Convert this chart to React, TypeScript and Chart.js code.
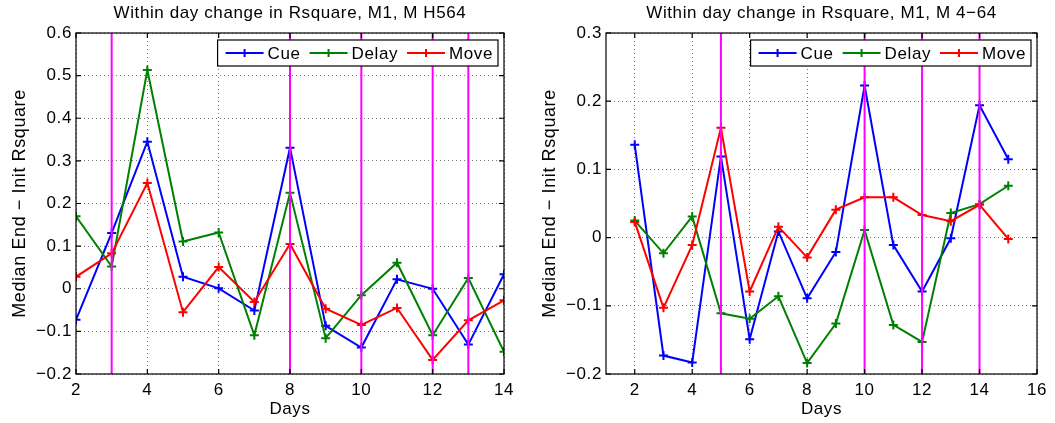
import React, { useEffect, useRef } from "react";
import { Chart, registerables } from "chart.js";

Chart.register(...registerables);

// ---------- data ----------
const days1 = [2, 3, 4, 5, 6, 7, 8, 9, 10, 11, 12, 13, 14];
const cue1 = [-0.073, 0.131, 0.345, 0.028, 0.001, -0.051, 0.331, -0.087, -0.138, 0.022, 0.0, -0.131, 0.034];
const delay1 = [0.17, 0.052, 0.513, 0.111, 0.132, -0.109, 0.225, -0.116, -0.015, 0.061, -0.109, 0.025, -0.148];
const move1 = [0.028, 0.083, 0.248, -0.055, 0.051, -0.031, 0.105, -0.047, -0.085, -0.045, -0.167, -0.074, -0.027];
const marks1 = [3, 8, 10, 12, 13];

const days2 = [2, 3, 4, 5, 6, 7, 8, 9, 10, 11, 12, 13, 14, 15];
const cue2 = [0.136, -0.173, -0.183, 0.119, -0.149, 0.009, -0.089, -0.021, 0.223, -0.011, -0.079, -0.001, 0.194, 0.115];
const delay2 = [0.025, -0.023, 0.031, -0.111, -0.119, -0.086, -0.184, -0.126, 0.011, -0.128, -0.153, 0.036, 0.049, 0.076];
const move2 = [0.023, -0.103, -0.011, 0.161, -0.079, 0.016, -0.029, 0.041, 0.059, 0.059, 0.033, 0.024, 0.048, -0.002];
const marks2 = [5, 10, 12, 14];

const xTicks1 = [2, 4, 6, 8, 10, 12, 14];
const xTicks2 = [2, 4, 6, 8, 10, 12, 14, 16];
const yTicks1 = [-0.2, -0.1, 0, 0.1, 0.2, 0.3, 0.4, 0.5, 0.6];
const yTicks2 = [-0.2, -0.1, 0, 0.1, 0.2, 0.3];

const seriesNames = ["Cue", "Delay", "Move"];
const seriesColors = ["#0000ff", "#008000", "#ff0000"];
const markColor = "#ff00ff";

const title1 = "Within day change in Rsquare, M1, M H564";
const title2 = "Within day change in Rsquare, M1, M 4\u221264";
const xTitle = "Days";
const yTitle = "Median End \u2212 Init Rsquare";

const FONT = "'Liberation Sans', Arial, Helvetica, sans-serif";
const SPACING = "0.6px";

type PanelCfg = {
  width: number;
  padRight: number;
  title: string;
  days: number[];
  series: number[][];
  marks: number[];
  xMin: number;
  xMax: number;
  xTicks: number[];
  yTicks: number[];
};

const panels: PanelCfg[] = [
  { width: 530, padRight: 26, title: title1, days: days1, series: [cue1, delay1, move1], marks: marks1, xMin: 2, xMax: 14, xTicks: xTicks1, yTicks: yTicks1 },
  { width: 525, padRight: 18, title: title2, days: days2, series: [cue2, delay2, move2], marks: marks2, xMin: 1, xMax: 16, xTicks: xTicks2, yTicks: yTicks2 },
];

function fmtY(v: number) {
  if (Math.abs(v) < 1e-9) return "0";
  return (v < 0 ? "\u2212" : "") + Math.abs(v).toFixed(1);
}

function decorPlugin(cfg: PanelCfg) {
  return {
    id: "decor",
    beforeUpdate(chart: any) {
      chart.ctx.letterSpacing = SPACING;
    },
    beforeDraw(chart: any) {
      const ctx = chart.ctx;
      ctx.save();
      ctx.fillStyle = "#ffffff";
      ctx.fillRect(0, 0, chart.width, chart.height);
      ctx.restore();
      ctx.letterSpacing = SPACING;
    },
    afterDatasetsDraw(chart: any) {
      const ctx = chart.ctx;
      const a = chart.chartArea;
      const xs = chart.scales.x;
      const ys = chart.scales.y;
      ctx.save();
      ctx.letterSpacing = SPACING;
      // frame
      ctx.strokeStyle = "#000";
      ctx.lineWidth = 1.2;
      ctx.strokeRect(a.left, a.top, a.right - a.left, a.bottom - a.top);
      // inward ticks
      ctx.beginPath();
      const tl = 5;
      cfg.xTicks.forEach((t) => {
        const px = xs.getPixelForValue(t);
        ctx.moveTo(px, a.bottom);
        ctx.lineTo(px, a.bottom - tl);
        ctx.moveTo(px, a.top);
        ctx.lineTo(px, a.top + tl);
      });
      cfg.yTicks.forEach((t) => {
        const py = ys.getPixelForValue(t);
        ctx.moveTo(a.left, py);
        ctx.lineTo(a.left + tl, py);
        ctx.moveTo(a.right, py);
        ctx.lineTo(a.right - tl, py);
      });
      ctx.stroke();

      // titles
      ctx.fillStyle = "#000";
      ctx.textAlign = "center";
      ctx.textBaseline = "middle";
      ctx.font = `17px ${FONT}`;
      const cx = (a.left + a.right) / 2;
      ctx.fillText(cfg.title, cx, 13);
      ctx.font = `17px ${FONT}`;
      ctx.fillText(xTitle, cx, 409);
      ctx.save();
      ctx.font = `18px ${FONT}`;
      ctx.translate(20, (a.top + a.bottom) / 2);
      ctx.rotate(-Math.PI / 2);
      ctx.fillText(yTitle, 0, 0);
      ctx.restore();

      // legend
      ctx.font = `17px ${FONT}`;
      const lineW = 38, gap = 4, itemGap = 9, padL = 8, padR = 5, h = 26;
      const tw = seriesNames.map((n) => ctx.measureText(n).width);
      const boxW = padL + padR + seriesNames.length * (lineW + gap) + tw.reduce((s, v) => s + v, 0) + itemGap * (seriesNames.length - 1);
      const bx = a.right - 6 - boxW;
      const by = a.top + 7;
      ctx.fillStyle = "#fff";
      ctx.fillRect(bx, by, boxW, h);
      ctx.strokeStyle = "#000";
      ctx.lineWidth = 1.2;
      ctx.strokeRect(bx, by, boxW, h);
      let x = bx + padL;
      const cy = by + h / 2;
      seriesNames.forEach((n, i) => {
        ctx.strokeStyle = seriesColors[i];
        ctx.lineWidth = 2;
        ctx.beginPath();
        ctx.moveTo(x, cy);
        ctx.lineTo(x + lineW, cy);
        const mx = x + lineW / 2;
        ctx.moveTo(mx, cy - 4);
        ctx.lineTo(mx, cy + 4);
        ctx.stroke();
        x += lineW + gap;
        ctx.fillStyle = "#000";
        ctx.textAlign = "left";
        ctx.fillText(n, x, cy + 1);
        x += tw[i] + itemGap;
      });
      ctx.restore();
    },
  };
}

function Panel({ cfg }: { cfg: PanelCfg }) {
  const ref = useRef<HTMLCanvasElement>(null);
  useEffect(() => {
    const yMin = cfg.yTicks[0];
    const yMax = cfg.yTicks[cfg.yTicks.length - 1];
    const datasets: any[] = [];
    cfg.marks.forEach((d) => {
      datasets.push({
        label: "mark" + d,
        data: [
          { x: d, y: yMin },
          { x: d, y: yMax },
        ],
        borderColor: markColor,
        borderWidth: 2,
        pointRadius: 0,
        order: 0,
      });
    });
    cfg.series.forEach((vals, i) => {
      datasets.push({
        label: seriesNames[i],
        data: cfg.days.map((d, k) => ({ x: d, y: vals[k] })),
        borderColor: seriesColors[i],
        backgroundColor: seriesColors[i],
        borderWidth: 2,
        pointStyle: "cross",
        pointRadius: 4.5,
        pointBorderWidth: 2,
        pointBorderColor: seriesColors[i],
        tension: 0,
        order: 3 - i,
      });
    });
    const gridCommon = {
      color: "rgba(0,0,0,0.55)",
      lineWidth: 1,
      drawTicks: false,
    };
    const chart = new Chart(ref.current as HTMLCanvasElement, {
      type: "line",
      data: { datasets },
      options: {
        animation: false,
        responsive: false,
        devicePixelRatio: 1,
        events: [],
        layout: { padding: { left: 0, top: 33, right: cfg.padRight, bottom: 0 } },
        plugins: { legend: { display: false }, tooltip: { enabled: false }, title: { display: false } },
        scales: {
          x: {
            type: "linear",
            min: cfg.xMin,
            max: cfg.xMax,
            grid: gridCommon,
            border: { display: false, dash: [1, 3] },
            afterBuildTicks: (s: any) => {
              s.ticks = cfg.xTicks.map((v) => ({ value: v }));
            },
            afterFit: (s: any) => {
              s.height = 49;
            },
            ticks: {
              autoSkip: false,
              maxRotation: 0,
              padding: 6,
              color: "#000",
              font: { family: FONT, size: 17 },
              callback: (v: any) => String(v),
            },
          },
          y: {
            type: "linear",
            min: yMin,
            max: yMax,
            grid: gridCommon,
            border: { display: false, dash: [1, 3] },
            afterBuildTicks: (s: any) => {
              s.ticks = cfg.yTicks.map((v) => ({ value: v }));
            },
            afterFit: (s: any) => {
              s.width = 76;
            },
            ticks: {
              autoSkip: false,
              padding: 4,
              color: "#000",
              font: { family: FONT, size: 17 },
              callback: (v: any) => fmtY(Number(v)),
            },
          },
        },
      },
      plugins: [decorPlugin(cfg)],
    } as any);
    return () => chart.destroy();
  }, [cfg]);
  return <canvas ref={ref} width={cfg.width} height={423} style={{ display: "block", width: cfg.width, height: 423 }} />;
}

export default function App() {
  return (
    <div style={{ position: "absolute", left: 0, top: 0, width: 1055, height: 423, display: "flex", background: "#fff" }}>
      {panels.map((p, i) => (
        <Panel key={i} cfg={p} />
      ))}
    </div>
  );
}
